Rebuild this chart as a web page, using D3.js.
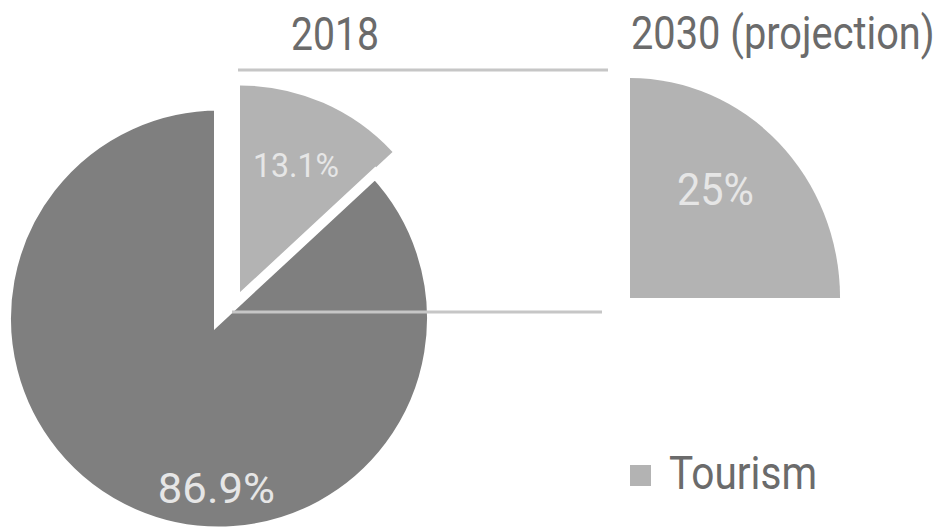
<!DOCTYPE html>
<html>
<head>
<meta charset="utf-8">
<script src="https://cdn.jsdelivr.net/npm/d3@7"></script>
<style>
  html, body { margin: 0; padding: 0; background: #fff; }
  svg text { font-family: Roboto, "DejaVu Sans", sans-serif; }
</style>
</head>
<body>
<div id="chart"></div>
<script>
// Data
var categories = ['Tourism', 'Other'];
var share2018 = [13.1, 86.9];
var share2030 = [25, 75];
var labels2018 = ['13.1%', '86.9%'];
var labels2030 = ['25%', ''];
var titles = ['2018', '2030 (projection)'];
var legendLabel = 'Tourism';

// Size variables
var width = 946;
var height = 528;
var radius = 208;
var gap = 5;
var cx = 219, cy = 318.5;

var colors = d3.scaleOrdinal()
    .domain(categories)
    .range(['#b3b3b3', '#7f7f7f']);

var svg = d3.select('#chart')
    .append('svg')
    .attr('width', width)
    .attr('height', height);

var pie = d3.pie()
    .sort(null)
    .value((d) => d);

var arc = d3.arc()
    .innerRadius(0)
    .outerRadius(radius);

// the big slice gets a white edge so the cut looks wider
var arcWide = d3.arc()
    .innerRadius(0)
    .outerRadius(radius + gap);

// 2018 pie, tourism slice pulled out
var arcs2018 = pie(share2018);

var pie2018 = svg.append('g')
    .attr('transform', `translate(${cx}, ${cy})`);

pie2018.selectAll('path')
    .data(arcs2018)
    .enter()
    .append('path')
    .attr('d', (d, i) => i === 0 ? arc(d) : arcWide(d))
    .attr('transform', (d, i) => i === 0 ? 'translate(21, -25)' : null)
    .style('fill', (d, i) => colors(categories[i]))
    .style('stroke', (d, i) => i === 0 ? 'none' : '#fff')
    .style('stroke-width', gap * 2)
    .style('stroke-linejoin', 'miter');

// connector lines between the two pies
svg.append('line')
    .attr('x1', 238).attr('x2', 608)
    .attr('y1', 70).attr('y2', 70)
    .style('stroke', '#c6c6c6')
    .style('stroke-width', 3);

svg.append('line')
    .attr('x1', 232).attr('x2', 602)
    .attr('y1', 312).attr('y2', 312)
    .style('stroke', '#c6c6c6')
    .style('stroke-width', 3);

// labels on the 2018 pie
var labelPos2018 = [
    { r: 140, a: arcs2018[0].startAngle + (arcs2018[0].endAngle - arcs2018[0].startAngle) / 2, dx: 21, dy: -25 },
    { r: 169, a: Math.PI * 1.005, dx: 0, dy: 0 }
];

pie2018.selectAll('text.label')
    .data(arcs2018)
    .enter()
    .append('text')
    .attr('class', 'label')
    .attr('x', (d, i) => labelPos2018[i].dx + labelPos2018[i].r * Math.sin(labelPos2018[i].a))
    .attr('y', (d, i) => labelPos2018[i].dy - labelPos2018[i].r * Math.cos(labelPos2018[i].a))
    .attr('dy', '0.35em')
    .attr('text-anchor', 'middle')
    .style('font-size', (d, i) => i === 0 ? '33px' : '43px')
    .attr('textLength', (d, i) => i === 0 ? 86 : 117)
    .attr('lengthAdjust', 'spacingAndGlyphs')
    .style('fill', '#e6e6e6')
    .text((d, i) => labels2018[i]);

// 2030 projection: only the tourism quarter is drawn
var arcs2030 = pie(share2030);

var pie2030 = svg.append('g')
    .attr('transform', 'translate(630, 298)');

pie2030.append('path')
    .datum(arcs2030[0])
    .attr('d', d3.arc().innerRadius(0).outerRadius(215))
    .attr('transform', 'scale(0.977, 1.023)')
    .style('fill', colors(categories[0]));

pie2030.append('text')
    .attr('x', 138 * Math.sin(Math.PI / 4 * 0.85))
    .attr('y', -138 * Math.cos(Math.PI / 4 * 0.85))
    .attr('dy', '0.35em')
    .attr('text-anchor', 'middle')
    .style('font-size', '44px')
    .attr('textLength', 77)
    .attr('lengthAdjust', 'spacingAndGlyphs')
    .style('fill', '#e6e6e6')
    .text(labels2030[0]);

// titles
svg.append('text')
    .attr('x', 335)
    .attr('y', 50)
    .attr('text-anchor', 'middle')
    .style('font-size', '46px')
    .attr('textLength', 88)
    .attr('lengthAdjust', 'spacingAndGlyphs')
    .style('fill', '#6b6b6b')
    .text(titles[0]);

// narrow font look: squeeze horizontally instead of stretching past the edge
svg.append('text')
    .attr('transform', 'translate(631, 49) scale(0.865, 1)')
    .style('font-size', '46px')
    .style('fill', '#6b6b6b')
    .text(titles[1]);

// legend
svg.append('rect')
    .attr('x', 630)
    .attr('y', 465)
    .attr('width', 21)
    .attr('height', 21)
    .style('fill', colors(categories[0]));

svg.append('text')
    .attr('x', 669)
    .attr('y', 489)
    .style('font-size', '46px')
    .attr('textLength', 148)
    .attr('lengthAdjust', 'spacingAndGlyphs')
    .style('fill', '#6b6b6b')
    .text(legendLabel);
</script>
</body>
</html>
